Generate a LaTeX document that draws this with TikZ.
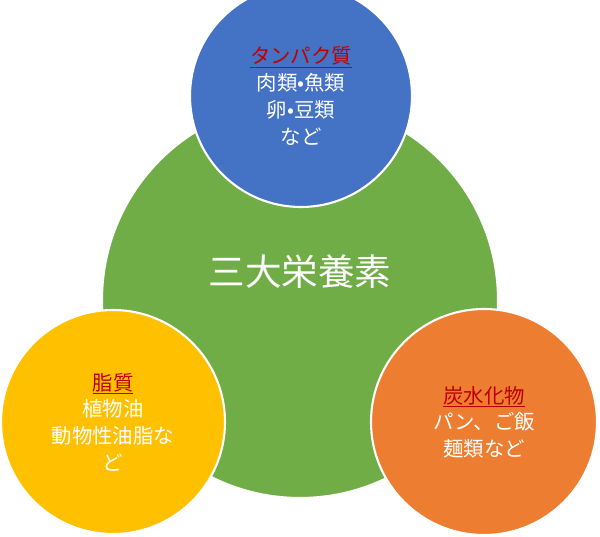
\documentclass[tikz,border=0pt]{standalone}
\usepackage{fontspec}
\setmainfont{Noto Sans CJK JP}
\definecolor{greenC}{HTML}{70AD47}
\definecolor{blueC}{HTML}{4472C4}
\definecolor{yellowC}{HTML}{FFC000}
\definecolor{orangeC}{HTML}{ED7D31}
\definecolor{titleC}{HTML}{C00000}
\newcommand{\ttl}[1]{\textcolor{titleC}{\underline{#1}}}
\begin{document}
\begin{tikzpicture}[x=0.025cm,y=-0.025cm]
  \useasboundingbox (0,0) rectangle (600,537);
  \tikzset{CircleStyle/.style = {shape        = circle,
                                 draw         = white,
                                 line width   = 1.5pt,
                                 text         = white,
                                 align        = center,
                                 inner sep    = 0pt,
                                 font         = \fontsize{14.5pt}{19pt}\selectfont}}
     \node[CircleStyle,fill=greenC,minimum size=396*0.025cm](Main) at (300,300) {};
     \node[text=white,font=\fontsize{26pt}{30pt}\selectfont](MainText) at (300,272){三大栄養素};
     \node[CircleStyle,fill=blueC,minimum size=222*0.025cm](Protein) at (301,96)
       {\ttl{タンパク質}\\肉類•魚類\\卵•豆類\\など};
     \node[CircleStyle,fill=yellowC,minimum size=224*0.025cm](Fat) at (113,422)
       {\ttl{脂質}\\植物油\\動物性油脂な\\ど};
     \node[CircleStyle,fill=orangeC,minimum size=226*0.025cm](Carb) at (484,422)
       {\ttl{炭水化物}\\パン、ご飯\\麺類など};
\end{tikzpicture}
\end{document}
